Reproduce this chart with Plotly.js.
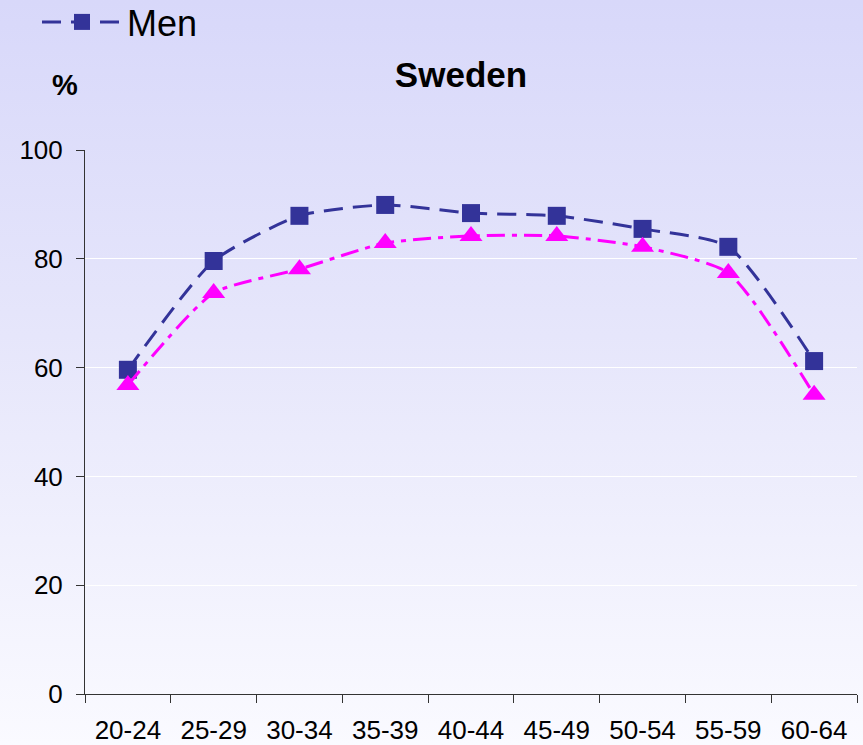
<!DOCTYPE html>
<html>
<head>
<meta charset="utf-8">
<script src="https://cdn.plot.ly/plotly-3.0.1.min.js"></script>
<style>
html,body{margin:0;padding:0;}
#chart{width:863px;height:745px;background:linear-gradient(to bottom,#d8d8fa 0%,#e6e6fb 45%,#fafaff 100%);}
</style>
</head>
<body>
<div id="chart"></div>
<script>
const ageGroups = ["20-24","25-29","30-34","35-39","40-44","45-49","50-54","55-59","60-64"];
const menValues = [59.6, 79.6, 87.9, 89.9, 88.4, 87.9, 85.5, 82.2, 61.2];
const womenValues = [56.8, 73.7, 78.1, 82.9, 84.2, 84.2, 82.2, 77.4, 55.0];
const yTicks = [0, 20, 40, 60, 80, 100];

const font = "Liberation Sans, Arial, sans-serif";

const traces = [
  {
    x: ageGroups, y: menValues, name: "Men", type: "scatter", mode: "lines+markers",
    line: {color: "#333399", width: 3, dash: "19px,10px", shape: "spline", smoothing: 0.6},
    marker: {symbol: "square", size: 18, color: "#333399"},
    showlegend: true
  },
  {
    x: ageGroups, y: womenValues, name: "Women", type: "scatter", mode: "lines+markers",
    line: {color: "#ff00ff", width: 3, dash: "18px,7px,5px,7px", shape: "spline", smoothing: 0.6},
    marker: {symbol: "triangle-up", size: 20, color: "#ff00ff"},
    showlegend: false
  }
];

const layout = {
  width: 863, height: 745,
  paper_bgcolor: "rgba(0,0,0,0)",
  plot_bgcolor: "rgba(0,0,0,0)",
  margin: {l: 85, r: 6, t: 150, b: 51, autoexpand: false},
  font: {family: font, size: 26, color: "#000"},
  title: {text: "<b>Sweden</b>", font: {family: font, size: 35, color: "#000"},
          x: 461/863, xanchor: "center", y: 1 - 75/745, yanchor: "middle", yref: "container"},
  showlegend: true,
  legend: {x: (37-85)/772, y: 1 + (150-22)/544, xref: "paper", yref: "paper", xanchor: "left", yanchor: "middle",
           bgcolor: "rgba(0,0,0,0)", font: {family: font, size: 36, color: "#000"},
           itemwidth: 80},
  xaxis: {
    type: "category", range: [-0.5, 8.5], tickson: "boundaries", ticks: "outside", ticklen: 8, tickcolor: "#333",
    showline: true, linecolor: "#333", linewidth: 1, showgrid: false, zeroline: false,
    ticklabelstandoff: 13,
    tickfont: {family: font, size: 26, color: "#000"}, fixedrange: true
  },
  yaxis: {
    range: [0, 100], tickvals: yTicks, ticks: "outside", ticklen: 8, tickcolor: "#333",
    showline: true, linecolor: "#333", linewidth: 1, showgrid: true, gridcolor: "#ffffff", gridwidth: 1,
    zeroline: false, ticklabelstandoff: 8,
    tickfont: {family: font, size: 26, color: "#000"}, fixedrange: true
  },
  annotations: [
    {text: "<b>%</b>", xref: "paper", yref: "paper", x: (65-85)/772, y: 1 + (150-85)/544,
     showarrow: false, font: {family: font, size: 29, color: "#000"}, xanchor: "center", yanchor: "middle"}
  ]
};

Plotly.newPlot("chart", traces, layout, {displayModeBar: false, staticPlot: true});
</script>
</body>
</html>
